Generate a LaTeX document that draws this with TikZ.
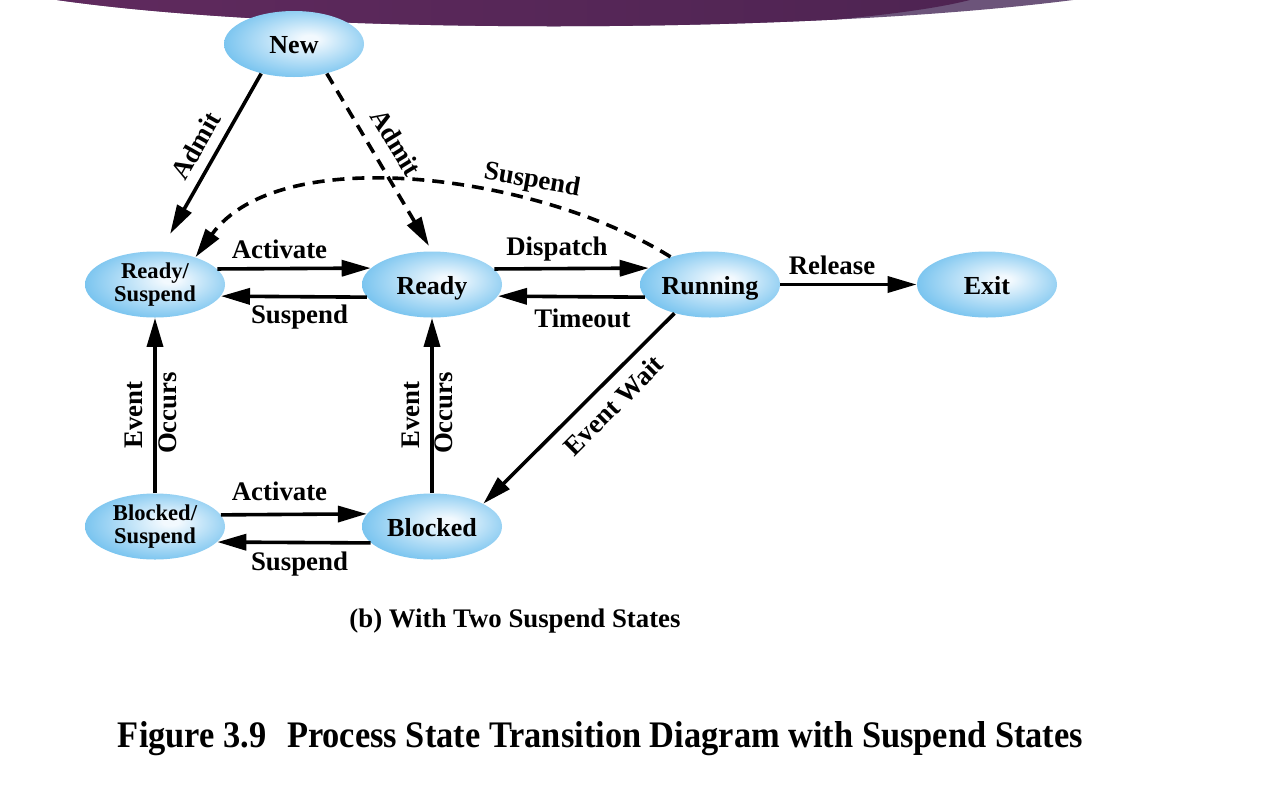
\documentclass[tikz,border=0pt]{standalone}
\usepackage{fontspec}
\usepackage{graphicx}
\setmainfont{Liberation Serif}
\usetikzlibrary{shapes.geometric,arrows.meta}
\definecolor{bubA}{RGB}{242,249,254}
\definecolor{bubB}{RGB}{112,192,238}
\definecolor{banL}{RGB}{96,42,94}
\definecolor{banM}{RGB}{106,48,100}
\definecolor{banR}{RGB}{78,36,82}
\definecolor{banLight}{RGB}{108,84,122}
\pgfdeclareradialshading{bubble}{\pgfpoint{6bp}{4bp}}{color(0bp)=(bubA); color(3bp)=(bubA); color(30bp)=(bubB); color(50bp)=(bubB)}
\tikzset{
  state/.style={ellipse, minimum width=70pt, minimum height=33pt, inner sep=0pt,
    shading=bubble, font=\fontsize{13}{15}\selectfont\bfseries, text height=9.6pt, text depth=0pt},
  stext/.style={align=center, font=\fontsize{11.3}{11.5}\selectfont\bfseries, inner sep=0pt},
  lab/.style={font=\fontsize{13.4}{15}\selectfont\bfseries, inner sep=0pt, text height=9.4pt, text depth=2.9pt},
  arr/.style={line width=1.8pt, -{Triangle[length=14.5pt,width=8pt]}},
  dsh/.style={arr, dash pattern=on 6pt off 4pt},
}
\begin{document}
\begin{tikzpicture}[x=0.5pt,y=-0.5pt]
\useasboundingbox (0,0) rectangle (1280,788);
\fill[white] (0,0) rectangle (1280,788);
% banner
\begin{scope}
  \clip (57,-1) -- (57,0) .. controls (300,35) and (800,35) .. (1073,0) -- (1073,-1) -- cycle;
  \fill[banLight] (40,-2) rectangle (1100,40);
  \shade[left color=banL, middle color=banM, right color=banR]
    (40,-2) -- (40,40) -- (820,40) -- (820,21) .. controls (900,14) and (950,6) .. (977,-2) -- cycle;
\end{scope}
% states
\node[state] (n) at (294,44) {New};
\node[state] (rs) at (155,284.5) {};
\node[stext] (rst) at (rs) {Ready/\\Suspend};
\node[state] (r) at (432,284.5) {Ready};
\node[state] (ru) at (710,284.5) {Running};
\node[state] (ex) at (987,284.5) {Exit};
\node[state] (bs) at (155,526.5) {};
\node[stext] (bst) at (bs) {Blocked/\\Suspend};
\node[state] (b) at (432,526.5) {Blocked};
% transitions
\draw[arr, shorten >=10pt] (n.222) -- (rs.81);
\draw[dsh, shorten >=3pt] (n.-42) -- (r.north);
\draw[dsh] (ru.145) .. controls (540,175) and (280,140) .. (rs.34);
\draw[arr] (rs.14.1) -- (r.165.9);
\draw[arr] (r.-169.1) -- (rs.-10.9);
\draw[arr] (r.14.1) -- (ru.165.9);
\draw[arr] (ru.-169.1) -- (r.-10.9);
\draw[arr] (ru.east) -- (ex.west);
\draw[arr] (ru.219) -- (b.24);
\draw[arr] (bs.north) -- (rs.south);
\draw[arr] (b.north) -- (r.south);
\draw[arr] (bs.10.4) -- (b.169.6);
\draw[arr] (b.-165.9) -- (bs.-14.1);
% labels
\node[lab, rotate=60.5] (l1) at (198,147) {Admit};
\node[lab, rotate=-58.5] (l2) at (394,144) {Admit};
\node[lab, rotate=-10] (l3) at (532,181) {Suspend};
\node[lab] (l4) at (279.5,251.6) {Activate};
\node[lab] (l5) at (299.5,316.5) {Suspend};
\node[lab] (l6) at (557,249) {Dispatch};
\node[lab] (l7) at (582.5,321) {Timeout};
\node[lab] (l8) at (832,268) {Release};
\node[lab, rotate=45] (l9) at (615,407) {Event Wait};
\node[lab, rotate=90] (l10) at (136,415) {Event};
\node[lab, rotate=90] (l11) at (170,413) {Occurs};
\node[lab, rotate=90] (l12) at (413,415) {Event};
\node[lab, rotate=90] (l13) at (446,413) {Occurs};
\node[lab] (l14) at (279.5,494) {Activate};
\node[lab] (l15) at (299.5,564) {Suspend};
\node[anchor=base, inner sep=0pt, font=\fontsize{13.4}{15}\selectfont\bfseries] (sub) at (515,627) {(b) With Two Suspend States};
\node[anchor=base, inner sep=0pt] (cap) at (600.5,747) {\resizebox{482.5pt}{13pt}{\bfseries Figure 3.9\hspace{0.6em}Process State Transition Diagram with Suspend States}};
\end{tikzpicture}
\end{document}
